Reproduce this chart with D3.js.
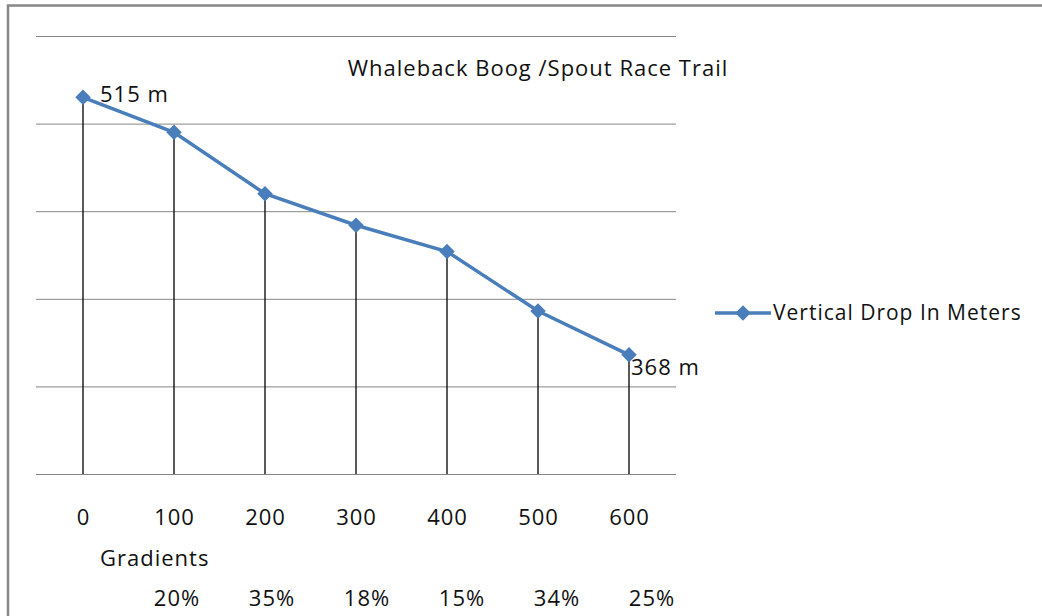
<!DOCTYPE html>
<html>
<head>
<meta charset="utf-8">
<script src="https://cdn.jsdelivr.net/npm/d3@7"></script>
<style>
  body { margin: 0; background: #fff; }
  svg text { font-family: "Open Sans", "Noto Sans", sans-serif; fill: #111; letter-spacing: 1px; }
</style>
</head>
<body>
<svg id="chart" width="1042" height="616"></svg>
<script>
// distance along trail (m) and elevation (m)
const distances = [0, 100, 200, 300, 400, 500, 600];
const elevations = [515, 495, 460, 442, 427, 393, 368];
const gradients = ['20%', '35%', '18%', '15%', '34%', '25%'];
const gridValues = [300, 350, 400, 450, 500, 550];
const seriesName = 'Vertical Drop In Meters';
const title = 'Whaleback Boog /Spout Race Trail';

const blue = '#4a7ebb';
const fs = '22px';

let svg = d3.select('#chart');

// outer frame (left + top only visible)
svg.append('path')
  .attr('d', 'M8,616 L8,5.5 L1042,5.5')
  .attr('fill', 'none')
  .attr('stroke', '#878787')
  .attr('stroke-width', 2.5);

let xScale = d3.scaleLinear()
  .domain([0, 600])
  .range([83, 629]);

let yScale = d3.scaleLinear()
  .domain([300, 550])
  .range([474, 36]);

// gridlines
let grid = svg.append('g')
  .attr('transform', 'translate(36,0)')
  .call(d3.axisLeft(yScale).tickValues(gridValues).tickSize(-640).tickFormat(''));
grid.select('.domain').remove();
grid.selectAll('line').attr('stroke', '#868686').attr('stroke-width', 1);

// x labels
let xAxis = svg.append('g')
  .attr('transform', 'translate(0,474)')
  .call(d3.axisBottom(xScale).tickValues(distances).tickSize(0).tickPadding(35).tickFormat(d3.format('d')));
xAxis.select('.domain').remove();
xAxis.selectAll('text')
  .style('font-size', fs)
  .style('font-family', null)
  .attr('fill', '#111');

// title
svg.append('text')
  .attr('x', 538)
  .attr('y', 76)
  .attr('text-anchor', 'middle')
  .style('font-size', fs)
  .text(title);

// drop lines
svg.append('g')
  .selectAll('line')
  .data(distances)
  .enter()
  .append('line')
  .attr('x1', d => xScale(d))
  .attr('x2', d => xScale(d))
  .attr('y1', (d, i) => yScale(elevations[i]))
  .attr('y2', yScale(300))
  .attr('stroke', '#000')
  .attr('stroke-width', 1.3);

// series line
let line = d3.line()
  .x((d, i) => xScale(distances[i]))
  .y(d => yScale(d));

svg.append('path')
  .datum(elevations)
  .attr('d', line)
  .attr('fill', 'none')
  .attr('stroke', blue)
  .attr('stroke-width', 3.5);

let diamond = d3.symbol().type(d3.symbolSquare).size(120);

svg.append('g')
  .selectAll('path')
  .data(elevations)
  .enter()
  .append('path')
  .attr('d', diamond)
  .attr('transform', (d, i) => 'translate(' + xScale(distances[i]) + ',' + yScale(d) + ') rotate(45)')
  .attr('fill', blue);

// data labels on first and last point
let first = 0, last = elevations.length - 1;
svg.append('text')
  .attr('x', xScale(distances[first]) + 17)
  .attr('y', yScale(elevations[first]) + 5)
  .style('font-size', fs)
  .text(elevations[first] + ' m');

svg.append('text')
  .attr('x', xScale(distances[last]) + 2)
  .attr('y', yScale(elevations[last]) + 20)
  .style('font-size', fs)
  .text(elevations[last] + ' m');

// gradients under the axis
svg.append('text')
  .attr('x', 100)
  .attr('y', 566)
  .style('font-size', fs)
  .text('Gradients');

svg.append('g')
  .selectAll('text')
  .data(gradients)
  .enter()
  .append('text')
  .attr('x', (d, i) => xScale(distances[i + 1]) + 3 + i * 4)
  .attr('y', 606)
  .attr('text-anchor', 'middle')
  .style('font-size', fs)
  .text(d => d);

// legend
let legend = svg.append('g')
  .attr('transform', 'translate(715,313)');
legend.append('line')
  .attr('x1', 0).attr('x2', 56)
  .attr('stroke', blue)
  .attr('stroke-width', 3.5);
legend.append('path')
  .attr('d', diamond)
  .attr('transform', 'translate(28,0) rotate(45)')
  .attr('fill', blue);
legend.append('text')
  .attr('x', 58)
  .attr('y', 7)
  .style('font-size', '21px')
  .text(seriesName);
</script>
</body>
</html>
